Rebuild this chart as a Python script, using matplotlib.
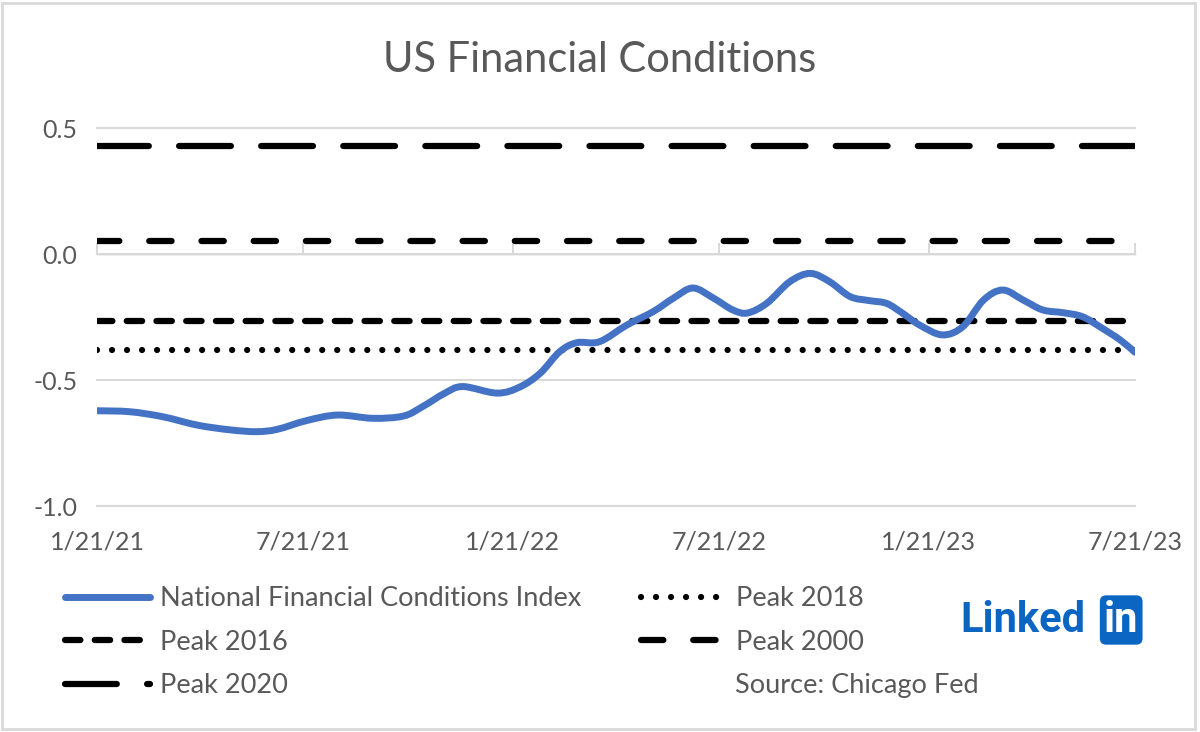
import matplotlib
matplotlib.use('Agg')
import matplotlib.pyplot as plt
import matplotlib.dates as mdates
import numpy as np
from matplotlib.patches import Rectangle, PathPatch
from matplotlib.path import Path
from matplotlib.lines import Line2D

plt.rcParams['font.family'] = ['Lato', 'DejaVu Sans']
plt.rcParams['lines.scale_dashes'] = False

# NFCI values
dates = ['2021-01-21', '2021-02-19', '2021-03-20', '2021-04-19', '2021-05-18',
         '2021-06-10', '2021-06-28', '2021-07-24', '2021-08-20', '2021-09-20',
         '2021-10-17', '2021-11-03', '2021-11-22', '2021-12-08', '2022-01-07',
         '2022-01-27', '2022-02-14', '2022-03-03', '2022-03-18', '2022-04-07',
         '2022-05-01', '2022-05-24', '2022-06-11', '2022-06-28', '2022-07-16',
         '2022-08-02', '2022-08-15', '2022-09-01', '2022-09-21', '2022-10-09',
         '2022-10-26', '2022-11-13', '2022-11-30', '2022-12-15', '2022-12-29',
         '2023-01-13', '2023-02-02', '2023-02-20', '2023-03-10', '2023-03-27',
         '2023-04-14', '2023-05-01', '2023-05-19', '2023-06-05', '2023-06-22',
         '2023-07-08', '2023-07-21']
nfci = [-0.622, -0.626, -0.646, -0.679, -0.698,
        -0.705, -0.696, -0.661, -0.639, -0.652,
        -0.643, -0.605, -0.553, -0.526, -0.552,
        -0.528, -0.473, -0.388, -0.352, -0.348,
        -0.282, -0.229, -0.175, -0.135, -0.175,
        -0.222, -0.234, -0.195, -0.110, -0.077,
        -0.110, -0.169, -0.185, -0.196, -0.235,
        -0.282, -0.321, -0.288, -0.183, -0.143,
        -0.183, -0.222, -0.233, -0.249, -0.294,
        -0.341, -0.390]

peak_2016 = -0.266
peak_2018 = -0.38
peak_2000 = 0.05
peak_2020 = 0.43

tick_dates = ['2021-01-21', '2021-07-21', '2022-01-21', '2022-07-21', '2023-01-21', '2023-07-21']
tick_labels = ['1/21/21', '7/21/21', '1/21/22', '7/21/22', '1/21/23', '7/21/23']
y_ticks = [0.5, 0.0, -0.5, -1.0]
y_labels = ['0.5', '0.0', '-0.5', '-1.0']

x = np.array(dates, dtype='datetime64[D]').astype('O')
xt = np.array(tick_dates, dtype='datetime64[D]').astype('O')
txt = '#595959'
grid = '#D9D9D9'
blue = '#4472C4'

fig = plt.figure(figsize=(12, 7.32), dpi=100)
fig.patches.append(Rectangle((0.002, 0.004), 0.994, 0.992, transform=fig.transFigure,
                             fill=False, edgecolor=grid, lw=2))
ax = fig.add_axes([97/1200, 1-506/732, (1135-97)/1200, (506-128)/732])

# smoothed line like Excel (Catmull-Rom style bezier through the points)
pts = np.column_stack([mdates.date2num(x), nfci])
n = len(pts)
verts = [pts[0]]
codes = [Path.MOVETO]
for i in range(n - 1):
    p0 = pts[max(i - 1, 0)]
    p1 = pts[i]
    p2 = pts[i + 1]
    p3 = pts[min(i + 2, n - 1)]
    verts += [p1 + (p2 - p0) / 6, p2 - (p3 - p1) / 6, p2]
    codes += [Path.CURVE4] * 3
ax.add_patch(PathPatch(Path(verts, codes), fill=False, edgecolor=blue, lw=5,
                       capstyle='round', joinstyle='round', zorder=4))
nfci_handle = Line2D([], [], color=blue, lw=5, solid_capstyle='round',
                     label='National Financial Conditions Index')

l16, = ax.plot([x[0], x[-1]], [peak_2016]*2, color='black', lw=4.5, dash_capstyle='round',
               label='Peak 2016', zorder=3)
l16.set_dashes((11.1, 10.3))
l20, = ax.plot([x[0], x[-1]], [peak_2020]*2, color='black', lw=4.5, dash_capstyle='round',
               label='Peak 2020', zorder=3)
l20.set_dashes((37.3, 21.8))
l18, = ax.plot([x[0], x[-1]], [peak_2018]*2, color='black', lw=4.5, dash_capstyle='round',
               label='Peak 2018', zorder=3)
l18.set_dashes((0.01, 10.8))
l00, = ax.plot([x[0], x[-1]], [peak_2000]*2, color='black', lw=4.5, dash_capstyle='round',
               label='Peak 2000', zorder=3)
l00.set_dashes((16.1, 21.5))

ax.set_xlim(x[0], x[-1])
ax.set_ylim(-1.0, 0.5)
for s in ax.spines.values():
    s.set_visible(False)
ax.set_yticks(y_ticks)
ax.set_yticklabels(y_labels)
ax.yaxis.grid(True, color=grid, lw=1.5)
for gl in ax.get_ygridlines():
    gl.set_clip_on(False)
ax.set_xticks(xt)
ax.set_xticklabels(tick_labels)
ax.tick_params(axis='both', length=0, labelsize=18, labelcolor=txt)
ax.tick_params(axis='y', pad=14)
ax.tick_params(axis='x', pad=18)

# horizontal axis line crossing at 0 with tick marks
sec = ax.secondary_xaxis(1.0/1.5)
sec.set_xticks(xt)
sec.set_xticklabels([])
sec.spines['bottom'].set_color(grid)
sec.spines['bottom'].set_linewidth(1.5)
sec.tick_params(direction='out', length=8, width=1.5, color=grid)

handles = [nfci_handle, l16, l20, l18, l00]
fig.legend(handles=handles, labels=[h.get_label() for h in handles], ncol=2,
           loc='upper left', bbox_to_anchor=(65/1200, 1-586/732), frameon=False,
           fontsize=19.5, labelcolor=txt, handlelength=3.15, handletextpad=0.37,
           columnspacing=2.2, labelspacing=0.69, borderpad=0, borderaxespad=0)

fig.text(0.5, 1-60/732, 'US Financial Conditions', ha='center', va='center',
         fontsize=30, color=txt)
fig.text(735/1200, 1-685/732, 'Source: Chicago Fed', ha='left', va='center',
         fontsize=19.5, color=txt)
fig.text(960/1200, 1-620/732, 'Linked', ha='left', va='center', fontsize=30,
         color='#0A66C2', fontweight='bold', family='Roboto')
fig.text(1104/1200, 1-620/732, 'in', ha='left', va='center', fontsize=30,
         color='white', fontweight='bold', family='Roboto',
         bbox=dict(boxstyle='round,pad=0.1,rounding_size=0.15', fc='#0A66C2', ec='none'))

fig.savefig('out.png', dpi=100)
